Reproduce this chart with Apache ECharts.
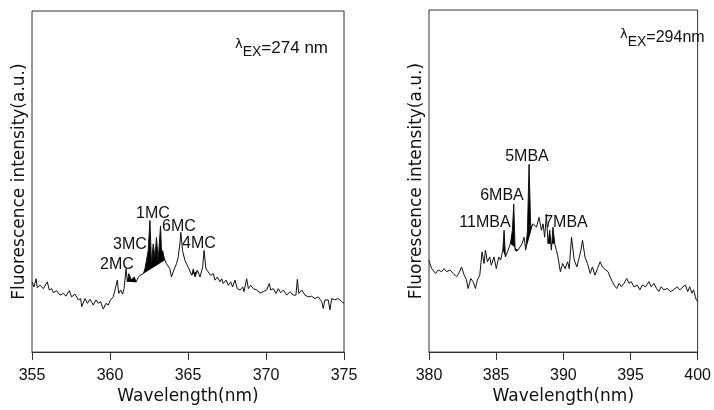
<!DOCTYPE html>
<html>
<head>
<meta charset="utf-8">
<script src="https://cdn.jsdelivr.net/npm/echarts@6/dist/echarts.min.js"></script>
<style>
  html, body { margin: 0; padding: 0; background: #fff; }
  #chart { width: 714px; height: 410px; }
</style>
</head>
<body>
<div id="chart"></div>
<script>
// left spectrum, excitation 274 nm: [wavelength nm, intensity a.u.]
var mcTrace = [
  [355.00, 20.6], [355.04, 21.1], [355.13, 19.1], [355.26, 21.5], [355.34, 18.9], [355.51, 19.6],
  [355.73, 18.6], [355.98, 20.6], [356.11, 18.2], [356.26, 18.6], [356.37, 17.4], [356.58, 18.0],
  [356.79, 16.7], [357.01, 17.2], [357.18, 16.4], [357.39, 18.0], [357.54, 16.2], [357.76, 17.0],
  [357.97, 15.3], [358.12, 15.7], [358.19, 13.3], [358.40, 15.7], [358.55, 14.3], [358.72, 15.5],
  [358.93, 13.8], [359.10, 15.3], [359.25, 14.3], [359.40, 14.8], [359.57, 12.6], [359.74, 14.3],
  [359.89, 13.8], [360.04, 15.3], [360.21, 16.2], [360.32, 18.2], [360.47, 21.1], [360.56, 17.2],
  [360.68, 18.2], [360.81, 17.0], [360.90, 18.6], [361.03, 24.5], [361.11, 20.6], [361.20, 23.0],
  [361.28, 22.5], [361.36, 21.2], [361.46, 21.5], [361.56, 22.0], [361.67, 20.5], [361.80, 21.8],
  [361.92, 22.5], [362.04, 22.8], [362.14, 23.0], [362.24, 24.4], [362.34, 26.9], [362.45, 29.8],
  [362.56, 38.6], [362.66, 25.9], [362.77, 31.7], [362.88, 27.8], [362.98, 33.6], [363.09, 26.9],
  [363.24, 37.0], [363.30, 29.8], [363.41, 29.8], [363.52, 26.9], [363.62, 25.9], [363.84, 24.4],
  [363.94, 22.0], [364.05, 23.5], [364.26, 25.9], [364.37, 27.8], [364.48, 31.7], [364.54, 35.1],
  [364.65, 29.8], [364.80, 26.9], [364.90, 26.4], [365.02, 24.8], [365.13, 24.9], [365.24, 22.5],
  [365.34, 24.4], [365.45, 22.0], [365.60, 24.0], [365.77, 22.0], [365.94, 24.9], [366.03, 29.8],
  [366.15, 24.4], [366.30, 23.5], [366.45, 22.5], [366.62, 23.0], [366.73, 21.1], [366.88, 22.0],
  [367.05, 20.6], [367.16, 21.5], [367.26, 20.1], [367.44, 21.1], [367.58, 19.6], [367.74, 20.6],
  [367.86, 19.1], [368.01, 21.1], [368.16, 18.6], [368.33, 18.2], [368.51, 19.1], [368.59, 17.7],
  [368.76, 21.5], [368.87, 18.6], [369.02, 19.6], [369.19, 18.6], [369.40, 18.2], [369.62, 17.4],
  [369.83, 17.7], [370.04, 18.2], [370.21, 20.1], [370.30, 18.2], [370.47, 18.6], [370.64, 17.2],
  [370.79, 18.6], [370.94, 17.4], [371.11, 18.2], [371.33, 16.7], [371.54, 17.7], [371.75, 16.7],
  [371.92, 16.7], [372.01, 21.3], [372.10, 17.2], [372.29, 18.2], [372.50, 16.7], [372.71, 16.2],
  [372.93, 16.4], [373.14, 15.7], [373.35, 16.2], [373.57, 14.8], [373.67, 12.8], [373.78, 15.3],
  [373.99, 15.3], [374.10, 12.4], [374.21, 15.7], [374.42, 15.3], [374.63, 15.7], [374.85, 14.8],
  [375.00, 14.3]
];
// right spectrum, excitation 294 nm
var mbaTrace = [
  [380.00, 26.9], [380.07, 25.9], [380.20, 24.4], [380.32, 24.9], [380.49, 23.0], [380.69, 24.0],
  [380.94, 23.5], [381.13, 24.4], [381.31, 23.5], [381.56, 24.0], [381.80, 23.0], [382.05, 22.0],
  [382.22, 23.0], [382.42, 24.9], [382.62, 22.5], [382.79, 21.1], [382.91, 18.6], [383.11, 21.5],
  [383.28, 20.6], [383.46, 18.6], [383.60, 21.1], [383.78, 22.5], [383.95, 29.3], [384.10, 25.9],
  [384.20, 29.8], [384.35, 26.4], [384.52, 27.8], [384.64, 25.4], [384.84, 27.8], [385.01, 24.4],
  [385.19, 27.8], [385.33, 26.9], [385.50, 29.8], [385.59, 35.6], [385.69, 27.8], [385.89, 29.8],
  [386.06, 31.7], [386.21, 35.6], [386.31, 43.3], [386.41, 29.8], [386.51, 29.3], [386.63, 29.8],
  [386.76, 29.3], [386.93, 31.7], [387.08, 33.6], [387.20, 29.8], [387.33, 35.6], [387.45, 54.9],
  [387.57, 36.5], [387.75, 37.5], [388.00, 36.5], [388.19, 39.4], [388.37, 35.6], [388.49, 37.5],
  [388.61, 33.6], [388.74, 40.4], [388.86, 31.7], [388.99, 35.6], [389.11, 29.8], [389.23, 36.5],
  [389.36, 31.7], [389.48, 29.8], [389.58, 28.3], [389.78, 23.5], [389.95, 25.9], [390.13, 24.4],
  [390.32, 26.4], [390.44, 24.4], [390.61, 33.6], [390.81, 26.9], [391.01, 24.9], [391.19, 27.8],
  [391.31, 29.8], [391.43, 32.7], [391.61, 27.8], [391.80, 25.9], [392.00, 23.0], [392.17, 24.9],
  [392.35, 22.5], [392.54, 24.4], [392.74, 26.4], [392.91, 24.9], [393.16, 24.0], [393.33, 23.5],
  [393.53, 21.5], [393.78, 19.6], [393.98, 18.6], [394.15, 20.1], [394.32, 19.1], [394.52, 20.1],
  [394.72, 21.5], [394.89, 20.1], [395.06, 20.6], [395.26, 19.1], [395.50, 19.6], [395.70, 18.2],
  [395.87, 19.6], [396.13, 19.1], [396.37, 20.6], [396.54, 19.1], [396.74, 20.1], [396.94, 18.6],
  [397.11, 17.7], [397.28, 19.1], [397.48, 18.2], [397.73, 18.6], [397.98, 17.7], [398.22, 18.2],
  [398.47, 19.1], [398.67, 18.2], [398.91, 19.1], [399.09, 19.6], [399.26, 17.7], [399.41, 19.1],
  [399.58, 17.2], [399.70, 18.2], [399.83, 16.2], [399.90, 15.3], [399.95, 15.7], [400.00, 14.8]
];
// wavelength ranges drawn solid black under the bands
var mcFills = [[361.11, 361.67], [362.14, 363.52], [365.24, 365.60]];
var mbaFills = [[385.50, 385.69], [386.06, 386.76], [387.20, 387.75], [388.86, 389.36]];
var mcLabels = ['2MC', '3MC', '1MC', '6MC', '4MC'];
var mbaLabels = ['11MBA', '6MBA', '5MBA', '7MBA'];
var leftTicks = [355, 360, 365, 370, 375];
var rightTicks = [380, 385, 390, 395, 400];

var chart = echarts.init(document.getElementById('chart'));

function fillSeries(trace, ranges, idx) {
    return {
        type: 'custom',
        xAxisIndex: idx,
        yAxisIndex: idx,
        silent: true,
        clip: true,
        data: ranges,
        renderItem: function (params, api) {
            var a = api.value(0), b = api.value(1);
            var pts = trace.filter(function (p) { return p[0] >= a && p[0] <= b; })
                .map(function (p) { return api.coord(p); });
            return { type: 'polygon', shape: { points: pts }, style: { fill: '#000' } };
        }
    };
}

function xAxisOf(idx, ticks) {
    return {
        type: 'value',
        gridIndex: idx,
        min: ticks[0],
        max: ticks[ticks.length - 1],
        interval: 5,
        name: 'Wavelength(nm)',
        nameLocation: 'middle',
        nameGap: 34,
        nameTextStyle: { fontFamily: 'DejaVu Sans', fontSize: 17, color: '#111' },
        axisLine: { show: true, onZero: false, lineStyle: { color: '#333', width: 1 } },
        axisTick: { show: true, inside: false, length: 8, lineStyle: { color: '#333' } },
        axisLabel: { margin: 15, fontFamily: 'Liberation Sans', fontSize: 16, color: '#111' },
        splitLine: { show: false }
    };
}

function yAxisOf(idx) {
    return {
        type: 'value',
        gridIndex: idx,
        min: 0,
        max: 100,
        name: 'Fluorescence intensity(a.u.)',
        nameLocation: 'middle',
        nameGap: 4,
        nameTextStyle: { fontFamily: 'DejaVu Sans', fontSize: 17, color: '#111' },
        axisLine: { show: false },
        axisTick: { show: false },
        axisLabel: { show: false },
        splitLine: { show: false }
    };
}

function peakText(txt, x, y) {
    return {
        type: 'text', x: x, y: y,
        style: { text: txt, fontFamily: 'Liberation Sans', fontSize: 16, fill: '#111', align: 'center', verticalAlign: 'middle' }
    };
}

function lambdaText(str, size, font, x, y) {
    return {
        type: 'text', x: x, y: y,
        style: {
            text: '{l|λ}{s|EX}{n|' + str + '}',
            rich: {
                l: { fontFamily: 'DejaVu Sans', fontSize: 13, fill: '#111', padding: [0, 0, 6, 0] },
                s: { fontFamily: 'Liberation Sans', fontSize: 14, fill: '#111', padding: [8, 0, 0, 0] },
                n: { fontFamily: font, fontSize: size, fill: '#111' }
            },
            verticalAlign: 'middle'
        }
    };
}

chart.setOption({
    animation: false,
    backgroundColor: '#fff',
    grid: [
        { left: 32, right: 370, top: 11, bottom: 54, show: true, borderColor: '#333', borderWidth: 1 },
        { left: 429, right: 15, top: 10, bottom: 54, show: true, borderColor: '#333', borderWidth: 1 }
    ],
    xAxis: [xAxisOf(0, leftTicks), xAxisOf(1, rightTicks)],
    yAxis: [yAxisOf(0), yAxisOf(1)],
    series: [
        {
            type: 'line', xAxisIndex: 0, yAxisIndex: 0, data: mcTrace,
            symbol: 'none', lineStyle: { color: '#111', width: 1 }
        },
        {
            type: 'line', xAxisIndex: 1, yAxisIndex: 1, data: mbaTrace,
            symbol: 'none', lineStyle: { color: '#111', width: 1 }
        },
        fillSeries(mcTrace, mcFills, 0),
        fillSeries(mbaTrace, mbaFills, 1)
    ],
    graphic: [
        peakText(mcLabels[0], 117, 265),
        peakText(mcLabels[1], 130, 245),
        peakText(mcLabels[2], 153, 214),
        peakText(mcLabels[3], 179, 227),
        peakText(mcLabels[4], 199, 244),
        peakText(mbaLabels[0], 485, 223),
        peakText(mbaLabels[1], 502, 196),
        peakText(mbaLabels[2], 527, 157),
        peakText(mbaLabels[3], 566, 223),
        lambdaText('=274 nm', 17, 'Liberation Sans', 235, 48),
        lambdaText('=294nm', 16, 'Liberation Sans Narrow, Liberation Sans', 620, 38)
    ]
});
</script>
</body>
</html>
